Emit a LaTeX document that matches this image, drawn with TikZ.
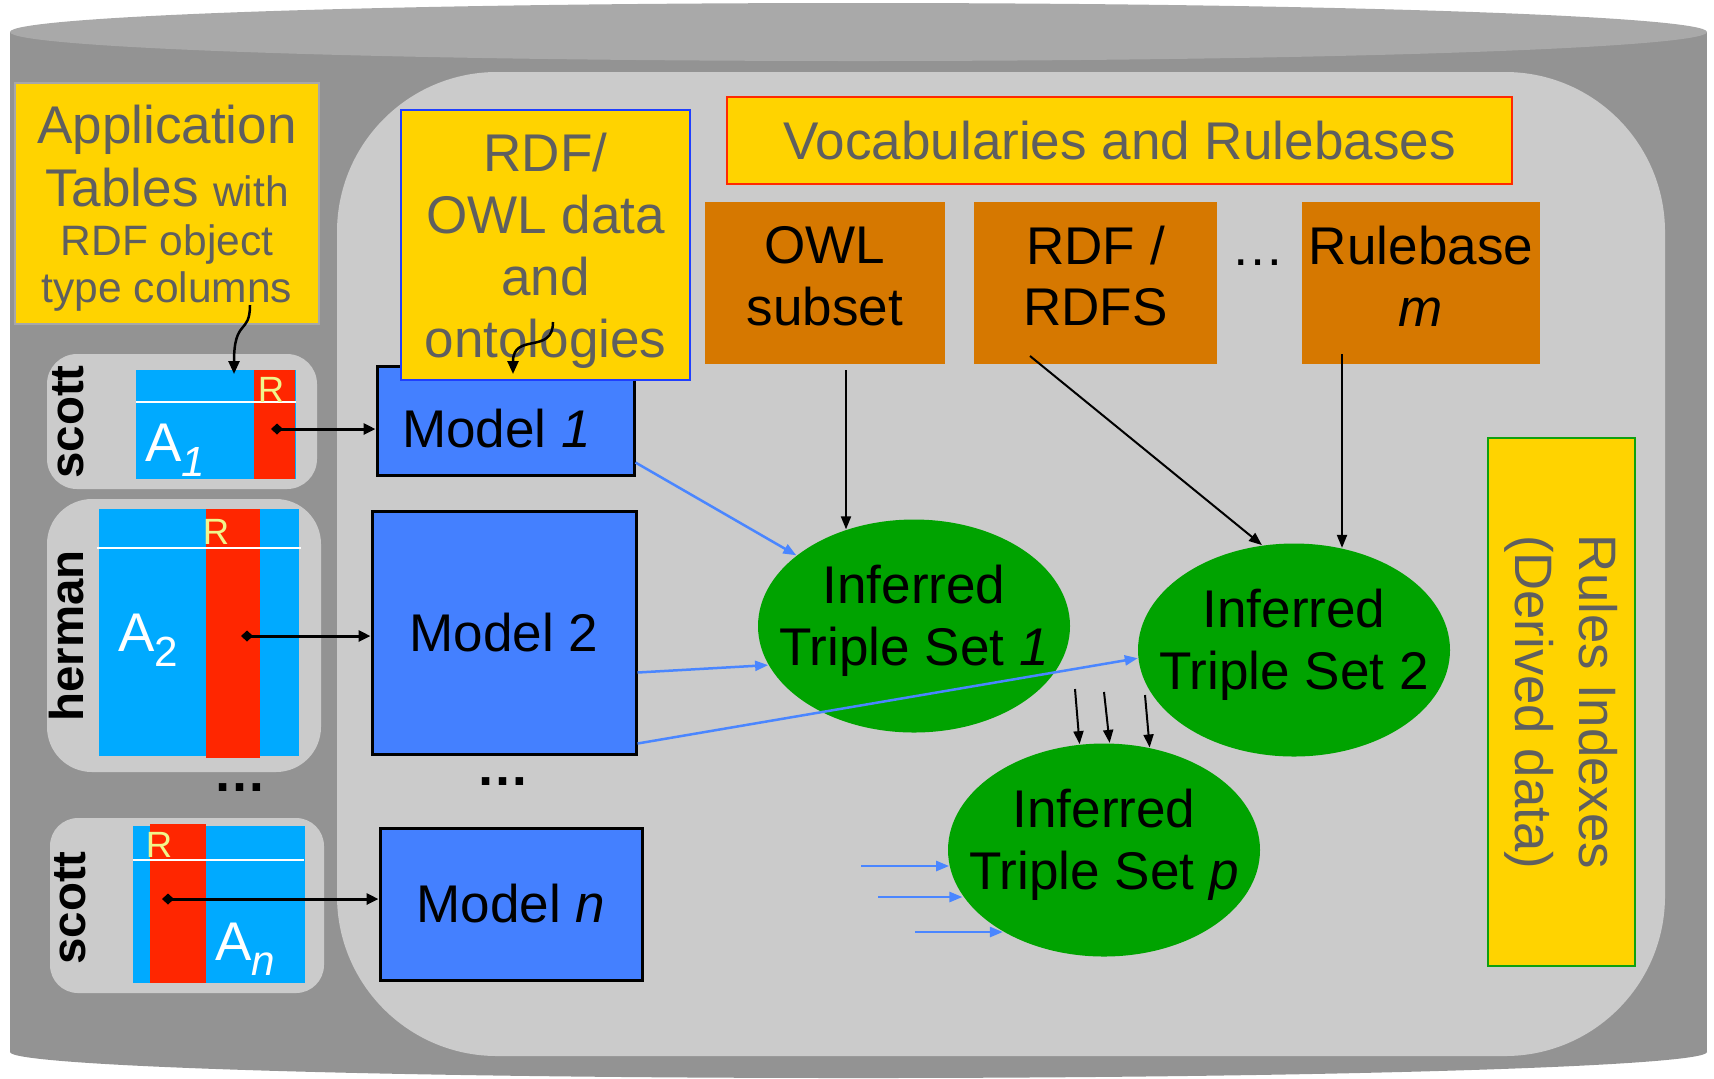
\documentclass[tikz,border=0pt]{standalone}
\usepackage{fontspec}
\setmainfont{Liberation Sans}
\usetikzlibrary{arrows.meta, positioning, shapes.geometric, calc}
\definecolor{cylgray}{HTML}{939393}
\definecolor{cyltop}{HTML}{A9A9A9}
\definecolor{innergray}{HTML}{CBCBCB}
\definecolor{oigold}{HTML}{FFD300}
\definecolor{oiorange}{HTML}{D67800}
\definecolor{modelblue}{HTML}{4480FF}
\definecolor{arrowblue}{HTML}{4A86FF}
\definecolor{tableblue}{HTML}{00AAFF}
\definecolor{colred}{HTML}{FF2600}
\definecolor{setgreen}{HTML}{00A300}
\definecolor{txtgray}{HTML}{5F5F5F}
\definecolor{rpale}{HTML}{F0F58C}
\definecolor{bordblue}{HTML}{1F3FFF}
\definecolor{bordred}{HTML}{FF2A00}
\definecolor{bordgreen}{HTML}{10A010}
\definecolor{bordgray}{HTML}{A8A8A8}
\newcommand{\bigf}{\fontsize{15.1}{17.6}\selectfont}
\newcommand{\smallf}{\fontsize{12.1}{13.1}\selectfont}
\newcommand{\tabsub}[1]{\raisebox{-4.3pt}{\fontsize{12}{12}\selectfont #1}}

\begin{document}
\begin{tikzpicture}[x=0.1mm, y=-0.1mm,
    every node/.style={inner sep=0pt},
    goldbox/.style={fill=oigold, text=txtgray, align=center, font=\bigf},
    goldtext/.style={text=txtgray, align=center, font=\bigf},
    rulebase/.style={fill=oiorange, minimum height=16.2mm},
    basetext/.style={align=center, font=\bigf, yshift=0.7mm},
    model/.style={fill=modelblue, draw=black, line width=0.3mm, font=\bigf},
    tset/.style={ellipse, fill=setgreen, minimum width=31.2mm, minimum height=21.3mm},
    settext/.style={align=center, font=\bigf, yshift=0.55mm},
    owner/.style={rotate=90, font=\fontsize{13.5}{14}\selectfont\bfseries},
    rlet/.style={text=rpale, font=\fontsize{10.4}{11}\selectfont},
    alet/.style={text=white, font=\fontsize{15.5}{16}\selectfont},
    link/.style={line width=0.3mm, {Diamond[length=1.2mm,width=1.1mm]}-{Triangle[length=1.2mm,width=1.1mm]}},
    infer/.style={line width=0.2mm, -{Triangle[length=1.3mm,width=1.0mm]}},
    feed/.style={draw=arrowblue, line width=0.25mm, -{Triangle[length=1.3mm,width=1.0mm]}},
    curvy/.style={line width=0.25mm, -{Triangle[length=1.3mm,width=1.1mm]}}]
    \useasboundingbox (0,0) rectangle (1714,1078);

    % Cylinder
    \fill[cylgray] (10,32) rectangle (1707,1052);
    \fill[cylgray] (858.5,1052) ellipse [x radius=848.5, y radius=26];
    \fill[cyltop] (858.5,32) ellipse [x radius=848.5, y radius=29];
    \fill[innergray, rounded corners=16mm] (337,72) rectangle (1665,1056);

    % Application tables (left)
    \node[goldbox, draw=bordgray, line width=0.2mm, minimum width=30.4mm, minimum height=24.1mm,
        label={[goldtext, yshift=-0.5mm]center:Application\\[0.4pt]Tables {\smallf with}\\[-3.7pt]{\smallf RDF object}\\[-4.2pt]{\smallf type columns}}]
        (app) at (167,203.5) {};

    \fill[innergray, rounded corners=3mm] (47,354) rectangle (317,489);
    \fill[tableblue] (136,370) rectangle (296,479);
    \fill[colred] (254,370) rectangle (295,479);
    \draw[white, line width=0.25mm] (136,402) -- (296,402);
    \node[rlet] (r1) at (271,389.5) {R};
    \node[alet] (a1) at (175,450) {A\tabsub{\textit{1}}};
    \node[owner] (o1) at (68.5,422) {scott};

    \fill[innergray, rounded corners=4.5mm] (47,499) rectangle (321,772);
    \fill[tableblue] (99,509) rectangle (299,756);
    \fill[colred] (206,509) rectangle (260,758);
    \draw[white, line width=0.25mm] (97,548) -- (301,548);
    \node[rlet] (r2) at (216,531.5) {R};
    \node[alet] (a2) at (148.5,640) {A\tabsub{2}};
    \node[owner] (o2) at (67,636) {herman};

    \node[font=\bigf\bfseries] (tdots) at (240,788) {…};

    \fill[innergray, rounded corners=2.8mm] (50,818) rectangle (324,993);
    \fill[tableblue] (133,826) rectangle (305,983);
    \fill[colred] (150,824) rectangle (206,983);
    \draw[white, line width=0.25mm] (133,860) -- (304,860);
    \node[rlet] (r3) at (159,845) {R};
    \node[alet] (an) at (245.5,949) {A\tabsub{\textit{n}}};
    \node[owner] (o3) at (70,908) {scott};

    % Models
    \node[model, minimum width=25.7mm, minimum height=10.9mm,
        label={[font=\bigf, xshift=-0.9mm, yshift=-0.85mm]center:Model \textit{1}}] (m1) at (505.5,420.5) {};
    \node[model, minimum width=26.4mm, minimum height=24.3mm] (m2) at (504,632.5) {Model 2};
    \node[model, minimum width=26.2mm, minimum height=15.2mm] (mn) at (511,904) {Model \textit{n}};
    \node[font=\bigf\bfseries] (mdots) at (503,782) {…};

    \node[goldbox, draw=bordblue, line width=0.25mm, minimum width=28.9mm, minimum height=27mm,
        label={[goldtext, yshift=-0.55mm]center:RDF/\\OWL data\\and\\ontologies}] (rdf) at (545.5,245) {};

    % Table columns to models
    \coordinate (a1r) at (271,429);
    \coordinate (a2r) at (241,636);
    \coordinate (anr) at (162,899);
    \draw[link] (a1r) -- (m1.west |- a1r);
    \draw[link] (a2r) -- (m2.west |- a2r);
    \draw[link] (anr) -- (mn.west |- anr);

    % Curly pointers
    \coordinate (appout) at (250,305);
    \coordinate (a1top) at (234,374);
    \draw[curvy] (appout) .. controls (250,335) and (234,318) .. (a1top);
    \coordinate (rdfout) at (553,322);
    \coordinate (m1top) at (513,374);
    \draw[curvy] (rdfout) .. controls (553,355) and (513,332) .. (m1top);

    % Vocabularies and rulebases
    \node[goldbox, draw=bordred, line width=0.25mm, minimum width=78.5mm, minimum height=8.7mm] (vocab) at (1119.5,140.5)
        {Vocabularies and Rulebases};
    \node[rulebase, minimum width=24mm, label={[basetext]center:OWL\\subset}] (owl) at (825,283) {};
    \node[rulebase, minimum width=24.3mm, label={[basetext]center:RDF /\\RDFS}] (rdfs) at (1095.5,283) {};
    \node[font=\bigf] (rdots) at (1258,263) {…};
    \node[rulebase, minimum width=23.8mm, label={[basetext]center:Rulebase\\\textit{m}}] (rbm) at (1421,283) {};

    % Rules indexes
    \node[fill=oigold, draw=bordgreen, line width=0.25mm, minimum width=14.7mm, minimum height=52.8mm,
        label={[text=txtgray, align=center, rotate=-90, font=\fontsize{15}{18.2}\selectfont]center:Rules Indexes\\(Derived data)}]
        (rules) at (1561.5,702) {};

    % Inferred triple sets
    \node[tset, label={[settext]center:Inferred\\Triple Set \textit{1}}] (ts1) at (914,626) {};
    \node[tset, label={[settext]center:Inferred\\Triple Set 2}] (ts2) at (1294,650) {};
    \node[tset, label={[settext]center:Inferred\\Triple Set \textit{p}}] (tsp) at (1104,850) {};

    % Rulebases into triple sets
    \coordinate (owlout) at (846,370);
    \coordinate (rdfsout) at (1030,356);
    \coordinate (rbmout) at (1342,354);
    \draw[infer] (owlout) -- (owlout |- ts1.125);
    \draw[infer] (rdfsout) -- (ts2.107);
    \draw[infer] (rbmout) -- (rbmout |- ts2.65);
    \foreach \i/\sx/\sy/\ang in {1/1075/689/103, 2/1104/692/87, 3/1145/695/66} {
        \coordinate (pdown\i) at (\sx,\sy);
        \draw[infer] (pdown\i) -- (tsp.\ang);
    }

    % Models into triple sets
    \draw[feed] ($(m1.south east)+(0,-14)$) -- (ts1.149);
    \draw[feed] ($(m2.east)+(0,40)$) -- (ts1.195);
    \draw[feed] ($(m2.east)+(0,111)$) -- (ts2.183);
    \foreach \i/\sx/\sy/\ang in {1/861/866/186, 2/878/897/198, 3/915/932/219} {
        \coordinate (pin\i) at (\sx,\sy);
        \draw[feed] (pin\i) -- (pin\i -| tsp.\ang);
    }
\end{tikzpicture}
\end{document}
